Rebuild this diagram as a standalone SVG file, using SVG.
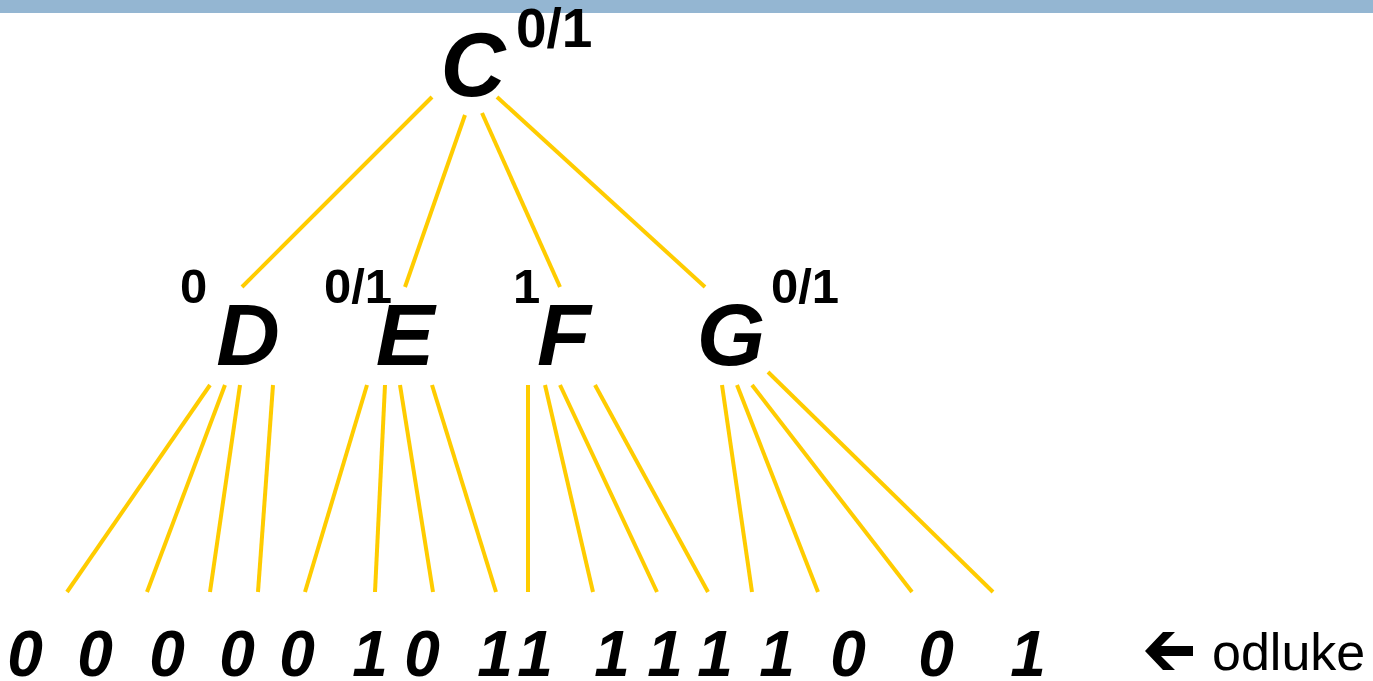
<svg xmlns="http://www.w3.org/2000/svg" width="1373" height="681" viewBox="0 0 1373 681">
<style>
.e{stroke:#FFCC00;stroke-width:4;fill:none}
.n{font-family:"Liberation Sans",Arial,sans-serif;font-weight:bold;font-style:italic;font-size:88px;fill:#000;text-anchor:middle}
.s{font-family:"Liberation Sans",Arial,sans-serif;font-weight:bold;font-size:49px;fill:#000}
.d{font-family:"Liberation Sans",Arial,sans-serif;font-weight:bold;font-style:italic;font-size:64px;fill:#000;text-anchor:middle}
.t{font-family:"Liberation Sans",Arial,sans-serif;font-size:52px;fill:#000}
</style>
<rect x="0" y="0" width="1373" height="13" fill="#94B6D2"/>
<g id="connectors">
<line class="e" x1="432" y1="97" x2="242" y2="287"/>
<line class="e" x1="465" y1="115" x2="405" y2="287"/>
<line class="e" x1="482" y1="113" x2="560" y2="287"/>
<line class="e" x1="497" y1="97" x2="705" y2="287"/>
<line class="e" x1="210" y1="385" x2="67" y2="592"/>
<line class="e" x1="225" y1="385" x2="147" y2="592"/>
<line class="e" x1="240" y1="385" x2="210" y2="592"/>
<line class="e" x1="273" y1="385" x2="258" y2="592"/>
<line class="e" x1="367" y1="385" x2="305" y2="592"/>
<line class="e" x1="385" y1="385" x2="375" y2="592"/>
<line class="e" x1="400" y1="385" x2="433" y2="592"/>
<line class="e" x1="432" y1="385" x2="496" y2="592"/>
<line class="e" x1="528" y1="385" x2="528" y2="592"/>
<line class="e" x1="545" y1="385" x2="593" y2="592"/>
<line class="e" x1="560" y1="385" x2="657" y2="592"/>
<line class="e" x1="595" y1="385" x2="708" y2="592"/>
<line class="e" x1="722" y1="385" x2="752" y2="592"/>
<line class="e" x1="737" y1="385" x2="818" y2="592"/>
<line class="e" x1="752" y1="385" x2="912" y2="592"/>
<line class="e" x1="768" y1="372" x2="993" y2="592"/>
</g>
<g id="node-C"><text class="n" x="473" y="96" style="font-size:90px">C</text><text class="s" x="516" y="47" style="font-size:55px">0/1</text></g>
<g id="node-D"><text class="n" x="248" y="365">D</text><text class="s" x="180" y="303">0</text></g>
<g id="node-E"><text class="n" x="405" y="365">E</text><text class="s" x="324" y="303">0/1</text></g>
<g id="node-F"><text class="n" x="564" y="365">F</text><text class="s" x="513" y="303">1</text></g>
<g id="node-G"><text class="n" x="731" y="365">G</text><text class="s" x="771" y="303">0/1</text></g>
<g id="decisions">
<text class="d" x="25" y="676">0</text>
<text class="d" x="95" y="676">0</text>
<text class="d" x="167" y="676">0</text>
<text class="d" x="237" y="676">0</text>
<text class="d" x="297" y="676">0</text>
<text class="d" x="370" y="676">1</text>
<text class="d" x="422" y="676">0</text>
<text class="d" x="495" y="676">1</text>
<text class="d" x="535" y="676">1</text>
<text class="d" x="612" y="676">1</text>
<text class="d" x="665" y="676">1</text>
<text class="d" x="715" y="676">1</text>
<text class="d" x="777" y="676">1</text>
<text class="d" x="848" y="676">0</text>
<text class="d" x="936" y="676">0</text>
<text class="d" x="1028" y="676">1</text>
</g>
<g id="legend">
<polygon points="1145,651 1163,632 1175,632 1161,646 1193,646 1193,656 1161,656 1175,670 1163,670" fill="#000"/>
<text class="t" x="1212" y="670">odluke</text>
</g>
</svg>
